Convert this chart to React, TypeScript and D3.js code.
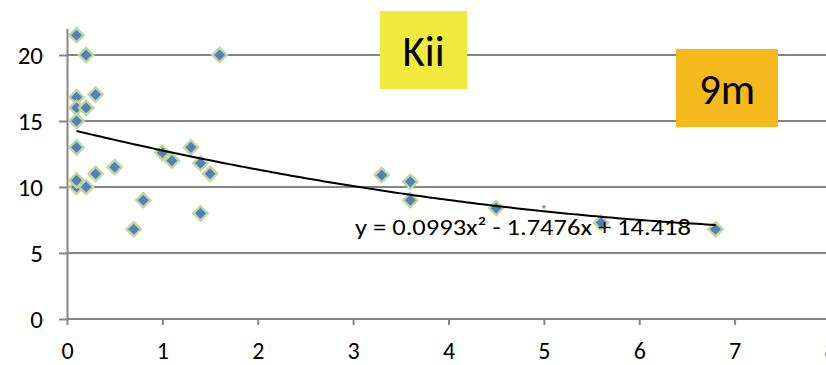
import React, { useEffect, useRef } from 'react';
import * as d3 from 'd3';

// points
const xValues = [0.1, 0.2, 1.6, 0.1, 0.1, 0.2, 0.3, 0.1, 0.1, 0.1, 0.1, 0.2, 0.3, 0.5, 1.0, 1.1, 1.3, 1.4, 1.5, 0.8, 0.7, 1.4, 3.3, 3.6, 3.6, 4.5, 5.6, 6.8];
const yValues = [21.5, 20, 20, 16.8, 16, 16, 17, 15, 13, 10, 10.5, 10, 11, 11.5, 12.6, 12, 13, 11.8, 11, 9, 6.8, 8, 10.9, 10.4, 9, 8.4, 7.3, 6.8];
const smallX = [5.0];
const smallY = [8.5];

// polynomial trendline y = a x^2 + b x + c
const trendCoef = [0.0993, -1.7476, 14.418];
const trendRange = [0.1, 6.8];
const equationLabel = 'y = 0.0993x² - 1.7476x + 14.418';

const xTicks = [0, 1, 2, 3, 4, 5, 6, 7, 8];
const yTicks = [0, 5, 10, 15, 20];
const gridTicks = [5, 10, 15, 20];

const FONT = 'Carlito, Lato, sans-serif';

const App = () => {
  const svgRef = useRef<SVGSVGElement>(null);

  useEffect(() => {
    const width = 826;
    const height = 365;
    const svg = d3.select(svgRef.current);
    svg.selectAll('*').remove();
    svg.attr('width', width).attr('height', height);

    const x = d3.scaleLinear().domain([0, 8]).range([67, 830]);
    const y = d3.scaleLinear().domain([0, 22]).range([319, 28.6]);

    // gridlines
    svg.append('g')
      .selectAll('line')
      .data(gridTicks)
      .join('line')
      .attr('x1', x(0))
      .attr('x2', width)
      .attr('y1', d => y(d))
      .attr('y2', d => y(d))
      .attr('stroke', '#868686')
      .attr('stroke-width', 2);

    // x axis
    const xAxis = svg.append('g')
      .attr('transform', `translate(0, ${y(0)})`)
      .call(d3.axisBottom(x).tickValues(xTicks).tickSize(6).tickSizeOuter(0).tickPadding(17));
    xAxis.select('.domain').attr('stroke', '#868686').attr('stroke-width', 2).attr('d', `M${x(0)},0H${width}`);
    xAxis.selectAll('.tick line').attr('stroke', '#868686').attr('stroke-width', 2);
    xAxis.selectAll('.tick text')
      .attr('font-family', FONT)
      .attr('font-size', 24)
      .attr('fill', '#000');

    // y axis
    const yAxis = svg.append('g')
      .attr('transform', `translate(${x(0)}, 0)`)
      .call(d3.axisLeft(y).tickValues(yTicks).tickSize(8).tickSizeOuter(0).tickPadding(16));
    yAxis.select('.domain').attr('stroke', '#868686').attr('stroke-width', 2);
    yAxis.selectAll('.tick line').attr('stroke', '#868686').attr('stroke-width', 2);
    yAxis.selectAll('.tick text')
      .attr('font-family', FONT)
      .attr('font-size', 25)
      .attr('fill', '#000');

    // markers
    const diamond = d3.symbol().type(d3.symbolDiamond2).size(130);
    svg.append('g')
      .selectAll('path')
      .data(xValues.map((v, i) => [v, yValues[i]]))
      .join('path')
      .attr('d', diamond)
      .attr('transform', d => `translate(${x(d[0])}, ${y(d[1])})`)
      .attr('fill', '#4F81BD')
      .attr('stroke', '#C3D69B')
      .attr('stroke-width', 2.4);

    svg.append('g')
      .selectAll('circle')
      .data(smallX.map((v, i) => [v, smallY[i]]))
      .join('circle')
      .attr('cx', d => x(d[0]))
      .attr('cy', d => y(d[1]))
      .attr('r', 1.6)
      .attr('fill', '#4F81BD')
      .attr('stroke', '#C3D69B')
      .attr('stroke-width', 1);

    // trendline
    const [a, b, c] = trendCoef;
    const trendPts = d3.range(trendRange[0], trendRange[1] + 0.001, 0.05).map(t => [t, a * t * t + b * t + c]);
    svg.append('path')
      .datum(trendPts)
      .attr('fill', 'none')
      .attr('stroke', '#000')
      .attr('stroke-width', 2)
      .attr('d', d3.line().x(d => x(d[0])).y(d => y(d[1])));

    // equation
    svg.append('text')
      .attr('x', 355)
      .attr('y', 235)
      .attr('font-family', FONT)
      .attr('font-size', 23)
      .attr('textLength', 336)
      .attr('lengthAdjust', 'spacingAndGlyphs')
      .text(equationLabel);

    // labels
    const labels = [
      { text: 'Kii', x0: 380, y0: 11, w: 87, h: 78, fill: '#EFEA3C' },
      { text: '9m', x0: 676, y0: 49, w: 102, h: 78, fill: '#F5B91E' },
    ];
    const lg = svg.append('g');
    labels.forEach(l => {
      lg.append('rect')
        .attr('x', l.x0).attr('y', l.y0)
        .attr('width', l.w).attr('height', l.h)
        .attr('fill', l.fill);
      lg.append('text')
        .attr('x', l.x0 + l.w / 2)
        .attr('y', l.y0 + l.h / 2 + 16)
        .attr('text-anchor', 'middle')
        .attr('font-family', FONT)
        .attr('font-size', 43)
        .text(l.text);
    });
  }, []);

  return (
    <svg ref={svgRef} style={{ position: 'absolute', left: 0, top: 0, background: '#fff' }}></svg>
  );
};

export default App;
